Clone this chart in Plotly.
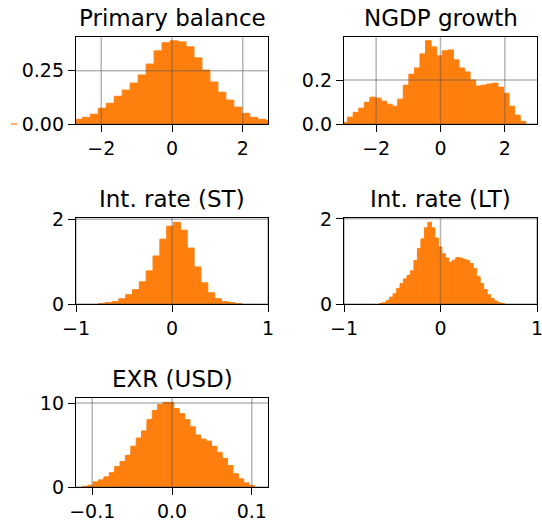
import numpy as np
import plotly.graph_objects as go

W, H = 542, 521
ORANGE = "#ff7f0e"

titles = ["Primary balance", "NGDP growth", "Int. rate (ST)", "Int. rate (LT)", "EXR (USD)"]

# Histogram data: first bin left edge, bin width, bar heights (density)
pb_start, pb_width = -2.76, 0.2254
pb_heights = [0.022, 0.031, 0.046, 0.074, 0.097, 0.130, 0.159, 0.192, 0.230, 0.281,
              0.343, 0.381, 0.390, 0.385, 0.362, 0.310, 0.253, 0.197, 0.149, 0.112,
              0.079, 0.050, 0.031, 0.022, 0.017]

ng_start, ng_width = -3.061, 0.1731
ng_heights = [0.008, 0.031, 0.053, 0.072, 0.099, 0.122, 0.118, 0.104, 0.090, 0.081,
              0.113, 0.177, 0.227, 0.255, 0.319, 0.379, 0.351, 0.310, 0.333, 0.337,
              0.292, 0.255, 0.237, 0.200, 0.173, 0.177, 0.182, 0.186, 0.168, 0.140,
              0.081, 0.040, 0.012]

st_start, st_width = -0.768, 0.0713
st_heights = [0.008, 0.031, 0.055, 0.125, 0.219, 0.336, 0.523, 0.781, 1.133, 1.531,
              1.836, 1.930, 1.742, 1.320, 0.875, 0.500, 0.266, 0.125, 0.055, 0.031,
              0.008]

lt_start, lt_width = -0.636, 0.0361
lt_heights = [0.01, 0.03, 0.08, 0.16, 0.24, 0.36, 0.48, 0.59, 0.67, 0.78,
              1.02, 1.30, 1.53, 1.79, 1.92, 1.79, 1.55, 1.34, 1.18, 1.08,
              0.98, 1.03, 1.09, 1.08, 1.05, 1.02, 0.95, 0.83, 0.64, 0.48,
              0.34, 0.22, 0.13, 0.07, 0.03, 0.01]

ex_start, ex_width = -0.1123, 0.00674
ex_heights = [0.08, 0.20, 0.61, 0.85, 1.21, 1.70, 2.43, 3.04, 3.77, 4.86,
              5.83, 6.68, 8.02, 9.11, 9.84, 10.08, 10.08, 9.35, 8.74, 8.02,
              7.17, 6.19, 5.71, 5.47, 4.86, 4.13, 3.40, 2.55, 1.58, 0.97,
              0.49, 0.16]

# Axis ranges and ticks
x_ranges = [[-2.714, 2.714], [-3.0, 3.0], [-1, 1], [-1, 1], [-0.1203, 0.1203]]
y_ranges = [[0, 0.408], [0, 0.396], [0, 2.03], [0, 2.02], [0, 10.6]]
x_tickvals = [[-2, 0, 2], [-2, 0, 2], [-1, 0, 1], [-1, 0, 1], [-0.1, 0.0, 0.1]]
x_ticktext = [["−2", "0", "2"], ["−2", "0", "2"], ["−1", "0", "1"], ["−1", "0", "1"],
              ["−0.1", "0.0", "0.1"]]
y_tickvals = [[0, 0.25], [0, 0.2], [0, 2], [0, 2], [0, 10]]
y_ticktext = [["0.00", "0.25"], ["0.0", "0.2"], ["0", "2"], ["0", "2"], ["0", "10"]]

series = [(pb_start, pb_width, pb_heights), (ng_start, ng_width, ng_heights),
          (st_start, st_width, st_heights), (lt_start, lt_width, lt_heights),
          (ex_start, ex_width, ex_heights)]

# subplot domains (pixels -> paper)
col_px = [(76, 268), (344, 537), (76, 268), (344, 537), (76, 268)]
row_px = [(37, 124), (37, 124), (218, 304), (218, 304), (398, 487)]

GRID = "rgba(80,80,80,0.42)"
TICK_SIZE = 19
TITLE_SIZE = 23

fig = go.Figure()
layout = dict(template="none", width=W, height=H, autosize=False,
              margin=dict(l=0, r=0, t=0, b=0, pad=0),
              paper_bgcolor="white", plot_bgcolor="white", showlegend=False,
              font=dict(family="DejaVu Sans", size=TICK_SIZE, color="black"))
shapes = []
annotations = []
for i, (start, width, heights) in enumerate(series):
    n = i + 1
    sfx = "" if n == 1 else str(n)
    centers = start + width * (np.arange(len(heights)) + 0.5)
    fig.add_trace(go.Bar(x=centers, y=heights, width=width,
                         marker=dict(color=ORANGE, line=dict(color=ORANGE, width=1)),
                         xaxis="x" + sfx, yaxis="y" + sfx, hoverinfo="skip"))
    x0, x1 = col_px[i]
    t, b = row_px[i]
    axcommon = dict(showline=True, mirror=True, linecolor="black", linewidth=1.3,
                    ticks="outside", ticklen=7, tickwidth=1.3, tickcolor="black",
                    showgrid=False, zeroline=False, fixedrange=True, automargin=False,
                    ticklabeloverflow="allow",
                    tickfont=dict(family="DejaVu Sans", size=TICK_SIZE, color="black"))
    layout["xaxis" + sfx] = dict(axcommon, domain=[x0 / W, x1 / W], range=x_ranges[i],
                                 tickmode="array", tickvals=x_tickvals[i], ticktext=x_ticktext[i],
                                 anchor="y" + sfx)
    layout["yaxis" + sfx] = dict(axcommon, domain=[1 - b / H, 1 - t / H], range=y_ranges[i],
                                 tickmode="array", tickvals=y_tickvals[i], ticktext=y_ticktext[i],
                                 anchor="x" + sfx)
    # gridlines drawn above bars (as in reference)
    for v in x_tickvals[i]:
        shapes.append(dict(type="line", xref="x" + sfx, yref="y" + sfx + " domain",
                           x0=v, x1=v, y0=0, y1=1, layer="above",
                           line=dict(color=GRID, width=1.5)))
    for v in y_tickvals[i]:
        shapes.append(dict(type="line", xref="x" + sfx + " domain", yref="y" + sfx,
                           x0=0, x1=1, y0=v, y1=v, layer="above",
                           line=dict(color=GRID, width=1.5)))
    annotations.append(dict(text=titles[i], xref="paper", yref="paper",
                            x=(x0 + x1) / 2 / W, y=1 - t / H, xanchor="center", yanchor="bottom",
                            yshift=4, showarrow=False,
                            font=dict(family="DejaVu Sans", size=TITLE_SIZE, color="black")))

# small orange dash left of the first panel's zero label
shapes.append(dict(type="line", xref="paper", yref="paper", x0=11 / W, x1=17 / W,
                   y0=1 - 124 / H, y1=1 - 124 / H, line=dict(color=ORANGE, width=1.3)))

layout["shapes"] = shapes
layout["annotations"] = annotations
fig.update_layout(**layout)
fig.write_html("out.html", config={"displayModeBar": False},
               post_script="document.body.style.margin='0';document.body.style.padding='0';")
